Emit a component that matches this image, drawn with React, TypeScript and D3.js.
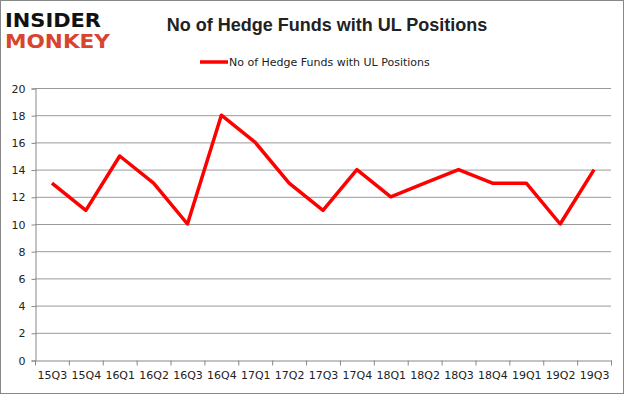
import React, { useEffect, useRef } from 'react';
import * as d3 from 'd3';

const quarters = ['15Q3', '15Q4', '16Q1', '16Q2', '16Q3', '16Q4', '17Q1', '17Q2', '17Q3', '17Q4', '18Q1', '18Q2', '18Q3', '18Q4', '19Q1', '19Q2', '19Q3'];
const hedgeFunds = [13, 11, 15, 13, 10, 18, 16, 13, 11, 14, 12, 13, 14, 13, 13, 10, 14];
const yTicks = [0, 2, 4, 6, 8, 10, 12, 14, 16, 18, 20];

const title = 'No of Hedge Funds with UL Positions';

const App = () => {
  const ref = useRef<SVGSVGElement>(null);

  useEffect(() => {
    const svg = d3.select(ref.current);
    svg.selectAll('*').remove();

    const W = 625, H = 395;
    const left = 35, right = 611, top = 88, bottom = 360;

    svg.append('rect').attr('width', W).attr('height', H).attr('fill', '#fff');
    // outer border
    svg.append('rect')
      .attr('x', 0.5).attr('y', 0.5).attr('width', W - 2).attr('height', H - 2)
      .attr('fill', 'none').attr('stroke', '#888');

    const x = d3.scaleBand().domain(quarters).range([left, right]);
    const y = d3.scaleLinear().domain([0, 20]).range([bottom, top]);

    // grid
    svg.append('g').selectAll('line')
      .data(yTicks.filter(d => d > 0))
      .enter().append('line')
      .attr('x1', left).attr('x2', right)
      .attr('y1', d => y(d) + 0.5).attr('y2', d => y(d) + 0.5)
      .attr('stroke', '#999').attr('stroke-width', 1);

    const font = 'Tahoma, "DejaVu Sans", sans-serif';

    // y axis
    const ya = svg.append('g')
      .attr('transform', `translate(${left + 0.5},0.5)`)
      .call(d3.axisLeft(y).tickValues(yTicks).tickSize(4).tickPadding(6));
    ya.select('.domain').attr('stroke', '#888');
    ya.selectAll('.tick line').attr('stroke', '#888');
    ya.selectAll('text').attr('fill', '#222').style('font-size', '11px').style('font-family', font);

    // x axis
    const xa = svg.append('g')
      .attr('transform', `translate(0.5,${bottom + 0.5})`)
      .call(d3.axisBottom(x).tickSize(0).tickPadding(11));
    xa.select('.domain').attr('stroke', '#888');
    xa.selectAll('text').attr('fill', '#222').style('font-size', '11px').style('font-family', font);
    xa.append('g').selectAll('line')
      .data(quarters.map((q, i) => left + i * x.bandwidth()).concat([right]))
      .enter().append('line')
      .attr('x1', d => d).attr('x2', d => d).attr('y1', 0).attr('y2', 5)
      .attr('stroke', '#888');

    // line
    const line = d3.line<number>()
      .x((d, i) => (x(quarters[i]) as number) + x.bandwidth() / 2)
      .y(d => y(d));
    svg.append('path')
      .datum(hedgeFunds)
      .attr('d', line)
      .attr('fill', 'none')
      .attr('stroke', '#ff0000')
      .attr('stroke-width', 3.5)
      .attr('stroke-linejoin', 'round');

    // title
    svg.append('text')
      .attr('x', 327).attr('y', 31)
      .attr('text-anchor', 'middle')
      .attr('fill', '#222')
      .style('font-family', '"Liberation Sans", Arial, sans-serif')
      .style('font-size', '18px').style('font-weight', 'bold')
      .text(title);

    // legend
    svg.append('line')
      .attr('x1', 200).attr('x2', 228).attr('y1', 62).attr('y2', 62)
      .attr('stroke', '#ff0000').attr('stroke-width', 3.5);
    svg.append('text')
      .attr('x', 229).attr('y', 66)
      .attr('fill', '#222')
      .style('font-family', font).style('font-size', '11px')
      .text(title);

    // logo
    const logo = svg.append('g').style('font-family', '"DejaVu Sans", sans-serif').style('font-weight', 'bold');
    logo.append('text').attr('x', 5).attr('y', 27)
      .attr('fill', '#111').style('font-size', '19px')
      .attr('textLength', 96).attr('lengthAdjust', 'spacingAndGlyphs')
      .text('INSIDER');
    logo.append('text').attr('x', 5).attr('y', 48)
      .attr('fill', '#d9442e').style('font-size', '19px')
      .attr('textLength', 105).attr('lengthAdjust', 'spacingAndGlyphs')
      .text('MONKEY');
  }, []);

  return <svg ref={ref} width={625} height={395} style={{ display: 'block', position: 'absolute', left: 0, top: 0 }} />;
};

export default App;
